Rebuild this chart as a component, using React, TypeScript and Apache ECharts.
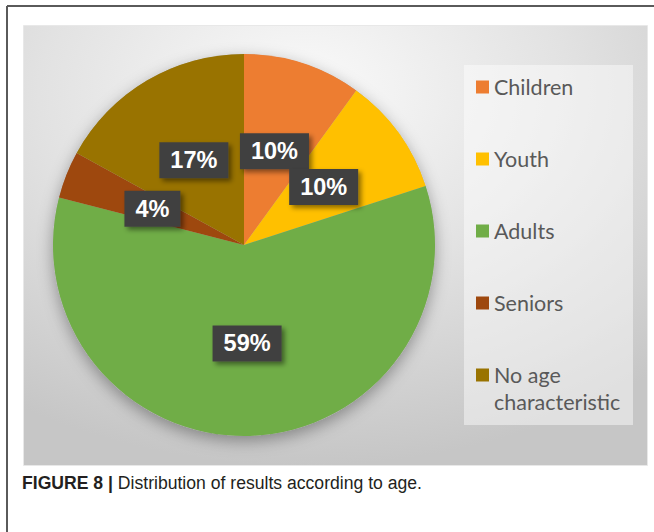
import React, { useEffect, useRef } from "react";
import * as echarts from "echarts";

const categories = ["Children", "Youth", "Adults", "Seniors", "No age characteristic"];
const shares = [10, 10, 59, 4, 17];
const sliceColors = ["#ED7D31", "#FFC000", "#70AD47", "#9E480E", "#997300"];
const captionBold = "FIGURE 8 |";
const captionText = "Distribution of results according to age.";

export default function App() {
  const ref = useRef<HTMLDivElement>(null);

  useEffect(() => {
    if (!ref.current) return;
    const chart = echarts.init(ref.current, null, { renderer: "svg" });
    const data = categories.map((name, i) => ({
      name,
      value: shares[i],
      itemStyle: { color: sliceColors[i] },
    }));
    const legendText = {
      color: "#595959",
      fontFamily: "Lato, 'Noto Sans', sans-serif",
      fontSize: 21.5,
      lineHeight: 27,
    };
    chart.setOption({
      animation: false,
      color: sliceColors,
      graphic: [
        {
          type: "line",
          z: 0,
          shape: { x1: 7, y1: 6, x2: 654, y2: 6 },
          style: { stroke: "#5a5a5a", lineWidth: 2 },
        },
        {
          type: "line",
          z: 0,
          shape: { x1: 7, y1: 6, x2: 7, y2: 532 },
          style: { stroke: "#5a5a5a", lineWidth: 2 },
        },
        {
          type: "rect",
          z: 0,
          shape: { x: 23.5, y: 25.5, width: 624, height: 440 },
          style: {
            fill: {
              type: "radial",
              x: 0.45,
              y: 0.15,
              r: 0.85,
              colorStops: [
                { offset: 0, color: "#fafafa" },
                { offset: 0.5, color: "#e2e2e2" },
                { offset: 1, color: "#c6c6c6" },
              ],
            },
            stroke: "#e8e8e8",
            lineWidth: 1,
          },
        },
        {
          type: "rect",
          z: 0,
          shape: { x: 464, y: 65, width: 169, height: 360 },
          style: { fill: "rgba(255,255,255,0.45)" },
        },
        {
          type: "text",
          z: 0,
          x: 22,
          y: 483,
          style: {
            text: "{b|" + captionBold + "} " + captionText,
            fontFamily: "'Liberation Sans', Arial, sans-serif",
            fontSize: 17.6,
            fill: "#231f20",
            verticalAlign: "middle",
            rich: {
              b: {
                fontWeight: "bold",
                fontFamily: "'Liberation Sans', Arial, sans-serif",
                fontSize: 17.6,
                fill: "#231f20",
              },
            },
          },
        },
      ],
      legend: [
        {
          data: categories.slice(0, 4),
          orient: "vertical",
          left: 476,
          top: 73.5,
          padding: 0,
          itemWidth: 13,
          itemHeight: 13,
          itemGap: 45,
          icon: "rect",
          selectedMode: false,
          textStyle: legendText,
        },
        {
          data: categories.slice(4),
          orient: "vertical",
          left: 476,
          top: 334.5,
          padding: 0,
          itemWidth: 13,
          itemHeight: 13,
          icon: "rect",
          selectedMode: false,
          formatter: (n: string) => "\n" + n.replace("No age ", "No age\n"),
          textStyle: legendText,
        },
      ],
      series: [
        {
          type: "pie",
          silent: true,
          z: 1,
          center: [244, 245],
          radius: 191,
          label: { show: false },
          labelLine: { show: false },
          data: [{ value: 1, name: "shadow" }],
          itemStyle: {
            color: "#b0b0b0",
            shadowBlur: 16,
            shadowColor: "rgba(0,0,0,0.35)",
            shadowOffsetY: 5,
          },
        },
        {
          type: "pie",
          z: 2,
          center: [244, 245],
          radius: 191,
          startAngle: 90,
          clockwise: true,
          avoidLabelOverlap: false,
          labelLayout: { hideOverlap: false },
          data,
          labelLine: { show: false },
          label: {
            show: true,
            position: "inside",
            formatter: (p: any) => Math.round(p.percent) + "%",
            color: "#ffffff",
            fontFamily: "'Liberation Sans', Arial, sans-serif",
            fontWeight: "bold",
            fontSize: 23.5,
            lineHeight: 26,
            backgroundColor: "#404040",
            padding: [5, 11, 5, 11],
            shadowColor: "rgba(0,0,0,0.45)",
            shadowBlur: 5,
            shadowOffsetX: 3,
            shadowOffsetY: 3,
          },
          emphasis: { disabled: true },
        },
      ],
    });
    return () => chart.dispose();
  }, []);

  return (
    <div
      ref={ref}
      style={{ position: "absolute", left: 0, top: 0, width: 654, height: 532 }}
    />
  );
}
